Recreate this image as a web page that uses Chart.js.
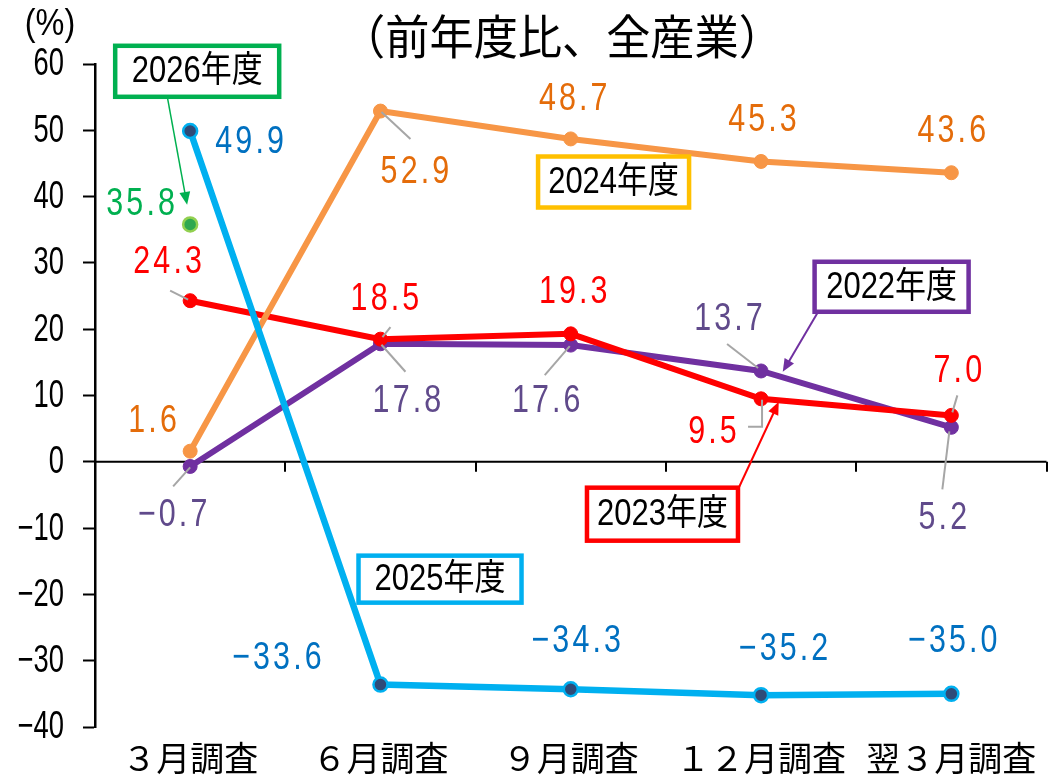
<!DOCTYPE html>
<html>
<head>
<meta charset="utf-8">
<script src="https://cdn.jsdelivr.net/npm/chart.js@4"></script>
<style>
    html, body { margin: 0; padding: 0; background: #fff; }
    #wrap { width: 1056px; height: 781px; }
</style>
</head>
<body>
<div id="wrap"><canvas id="c" width="1056" height="781"></canvas></div>
<script>
// データ
const categories = ["３月調査", "６月調査", "９月調査", "１２月調査", "翌３月調査"];
const fy2022 = [-0.7, 17.8, 17.6, 13.7, 5.2];
const fy2023 = [24.3, 18.5, 19.3, 9.5, 7.0];
const fy2024 = [1.6, 52.9, 48.7, 45.3, 43.6];
const fy2025 = [49.9, -33.6, -34.3, -35.2, -35.0];
const fy2026 = [35.8, null, null, null, null];
const yMin = -40;
const yMax = 60;
const yStep = 10;

const numFont = "'Liberation Sans', Arimo, sans-serif";
const boxFont = "'Liberation Sans', 'Noto Sans CJK JP', sans-serif";
const jpFont = "'Noto Sans CJK JP', sans-serif";

const colors = {
    fy2022: "#7030A0",
    fy2023: "#FF0000",
    fy2024: "#F79646",
    fy2025: "#00B0F0",
    fy2026: "#00B050",
};

// ラベル位置（点からのずれ, px）
const labelStyle = [
    { color: "#604A8B", offsets: [[-18, 48], [26, 56], [-25, 55], [-33, -53], [-9, 90]] },
    { color: "#FF0000", offsets: [[-23, -39], [4, -41], [2, -43], [-49, 32], [6, -45]] },
    { color: "#E46C0A", offsets: [[-38, -31], [34, 60], [2, -41], [1, -42], [0, -42]] },
    { color: "#0070C0", offsets: [[59, 10], [-104, -27], [5, -49], [22, -47], [1, -54]] },
    { color: "#00B050", offsets: [[-50, -21]] },
];

// 引き出し線（点からのずれ）
const leaders = [
    [1, 0, [[-20, -10], [-2, -1]]],
    [2, 1, [[1, 1], [30, 28]]],
    [1, 1, [[2, -2], [10, -12]]],
    [0, 1, [[1, 1], [25, 28]]],
    [0, 2, [[-1, 1], [-26, 30]]],
    [0, 3, [[-34, -27], [-3, -3]]],
    [1, 3, [[-13, 28], [1, 28], [1, 1]]],
    [1, 4, [[6, -20], [1, -3]]],
    [0, 4, [[-9, 62], [-2, 4]]],
    [0, 0, [[-17, 20], [0, 1]]],
];

// 凡例ボックス（カテゴリ位置, 値, 幅, 高さ）
const legendBoxes = [
    { text: "2026年度", color: "#00B050", x: 0.037, y: 58.9, w: 164, h: 51 },
    { text: "2024年度", color: "#FFC000", x: 2.225, y: 42.2, w: 151, h: 51 },
    { text: "2022年度", color: "#7030A0", x: 3.686, y: 26.4, w: 154, h: 50 },
    { text: "2023年度", color: "#FF0000", x: 2.482, y: -7.9, w: 151, h: 53 },
    { text: "2025年度", color: "#00B0F0", x: 1.313, y: -17.7, w: 163, h: 47 },
];

const legendArrows = [
    { color: "#00B050", width: 1.5, from: [-0.12, 55.05], to: [-0.016, 38.76] },
    { color: "#7030A0", width: 2, from: [3.297, 22.47], to: [3.114, 13.57] },
    { color: "#FF0000", width: 2, from: [2.883, -3.92], to: [3.093, 9.05] },
];

function fmt(v) {
    return v.toFixed(1).replace("-", "−");
}

// 横に詰めた文字
function narrowText(ctx, text, x, y, sx, align) {
    ctx.save();
    ctx.translate(x, y);
    ctx.scale(sx, 1);
    ctx.textAlign = align || "center";
    ctx.fillText(text, 0, 0);
    ctx.restore();
}

function drawArrow(ctx, x1, y1, x2, y2, color, width) {
    const ang = Math.atan2(y2 - y1, x2 - x1);
    const head = 14;
    ctx.save();
    ctx.strokeStyle = color;
    ctx.fillStyle = color;
    ctx.lineWidth = width;
    ctx.beginPath();
    ctx.moveTo(x1, y1);
    ctx.lineTo(x2 - Math.cos(ang) * head * 0.8, y2 - Math.sin(ang) * head * 0.8);
    ctx.stroke();
    ctx.beginPath();
    ctx.moveTo(x2, y2);
    ctx.lineTo(x2 - head * Math.cos(ang - 0.4), y2 - head * Math.sin(ang - 0.4));
    ctx.lineTo(x2 - head * Math.cos(ang + 0.4), y2 - head * Math.sin(ang + 0.4));
    ctx.closePath();
    ctx.fill();
    ctx.restore();
}

const zeroLinePlugin = {
    id: "zeroLine",
    beforeDatasetsDraw(chart) {
        const { ctx, chartArea, scales } = chart;
        const y0 = scales.y.getPixelForValue(0);
        ctx.save();
        ctx.strokeStyle = "#000";
        ctx.lineWidth = 2;
        ctx.beginPath();
        ctx.moveTo(chartArea.left, y0);
        ctx.lineTo(chartArea.right, y0);
        for (let i = 1; i <= categories.length; i += 1) {
            const x = Math.round(scales.x.getPixelForValue(i - 0.5));
            ctx.moveTo(x, y0);
            ctx.lineTo(x, y0 + 10);
        }
        ctx.stroke();

        // 縦軸の目盛ラベル
        ctx.fillStyle = "#000";
        ctx.font = "38px " + numFont;
        ctx.textBaseline = "middle";
        scales.y.ticks.forEach((t) => {
            const y = scales.y.getPixelForValue(t.value);
            narrowText(ctx, String(t.value).replace("-", "−"), 64, y + 1, 0.72, "right");
        });
        ctx.restore();
    },
};

const annotationsPlugin = {
    id: "annotations",
    afterDatasetsDraw(chart) {
        const { ctx, scales } = chart;
        const xs = scales.x;
        const ys = scales.y;

        // 引き出し線
        ctx.save();
        ctx.strokeStyle = "#A6A6A6";
        ctx.lineWidth = 2;
        leaders.forEach(([ds, idx, pts]) => {
            const p = chart.getDatasetMeta(ds).data[idx];
            ctx.beginPath();
            pts.forEach(([dx, dy], k) => {
                if (k === 0) ctx.moveTo(p.x + dx, p.y + dy);
                else ctx.lineTo(p.x + dx, p.y + dy);
            });
            ctx.stroke();
        });
        ctx.restore();

        // 数値ラベル
        ctx.save();
        ctx.font = "39px " + numFont;
        ctx.textBaseline = "middle";
        ctx.letterSpacing = "4px";
        chart.data.datasets.forEach((ds, di) => {
            const meta = chart.getDatasetMeta(di);
            ds.data.forEach((v, i) => {
                if (v === null) return;
                const p = meta.data[i];
                const [dx, dy] = labelStyle[di].offsets[i];
                ctx.fillStyle = labelStyle[di].color;
                narrowText(ctx, fmt(v), p.x + dx + 2, p.y + dy + 1, 0.78, "center");
            });
        });
        ctx.restore();

        // 矢印
        legendArrows.forEach((a) => {
            drawArrow(ctx,
                xs.getPixelForValue(a.from[0]), ys.getPixelForValue(a.from[1]),
                xs.getPixelForValue(a.to[0]), ys.getPixelForValue(a.to[1]),
                a.color, a.width);
        });

        // 凡例ボックス
        ctx.save();
        legendBoxes.forEach((b) => {
            const cx = xs.getPixelForValue(b.x);
            const cy = ys.getPixelForValue(b.y);
            ctx.fillStyle = "#fff";
            ctx.fillRect(cx - b.w / 2, cy - b.h / 2, b.w, b.h);
            ctx.strokeStyle = b.color;
            ctx.lineWidth = 4.5;
            ctx.strokeRect(cx - b.w / 2, cy - b.h / 2, b.w, b.h);
            ctx.fillStyle = "#000";
            ctx.font = "36px " + boxFont;
            ctx.textBaseline = "middle";
            narrowText(ctx, b.text, cx, cy + 1, 0.86, "center");
        });
        ctx.restore();
    },
    afterDraw(chart) {
        const { ctx } = chart;
        ctx.save();
        ctx.fillStyle = "#000";
        ctx.textBaseline = "middle";
        ctx.font = "47px " + jpFont;
        narrowText(ctx, "（前年度比、全産業）", 562, 36, 0.94, "center");
        ctx.font = "36px " + numFont;
        narrowText(ctx, "(%)", 50, 25, 0.9, "center");
        ctx.restore();
    },
};

function lineDataset(label, data, color, order) {
    return {
        label,
        data,
        borderColor: color,
        backgroundColor: color,
        pointBackgroundColor: color,
        pointBorderColor: color,
        borderWidth: 6,
        pointRadius: 7,
        pointBorderWidth: 1,
        tension: 0,
        spanGaps: false,
        order,
    };
}

const datasets = [
    lineDataset("2022年度", fy2022, colors.fy2022, 4),
    lineDataset("2023年度", fy2023, colors.fy2023, 3),
    lineDataset("2024年度", fy2024, colors.fy2024, 2),
    {
        ...lineDataset("2025年度", fy2025, colors.fy2025, 1),
        borderWidth: 6.5,
        pointBackgroundColor: "#2F4B78",
        pointBorderColor: colors.fy2025,
        pointBorderWidth: 2.5,
    },
    {
        ...lineDataset("2026年度", fy2026, colors.fy2026, 0),
        pointBackgroundColor: "#2FA84F",
        pointBorderColor: "#92D050",
        pointBorderWidth: 2.5,
    },
];

new Chart(document.getElementById("c"), {
    type: "line",
    data: { labels: categories, datasets },
    options: {
        responsive: false,
        animation: false,
        layout: { padding: { top: 64, right: 9, left: 0, bottom: 0 } },
        plugins: { legend: { display: false }, tooltip: { enabled: false }, title: { display: false } },
        scales: {
            x: {
                type: "category",
                offset: true,
                grid: { display: false },
                border: { display: false },
                ticks: {
                    color: "#000",
                    font: { family: jpFont, size: 34 },
                    padding: 3,
                    maxRotation: 0,
                    autoSkip: false,
                },
                afterFit: (s) => { s.height = 54; },
            },
            y: {
                min: yMin,
                max: yMax,
                border: { display: true, color: "#000", width: 2.5 },
                grid: { drawOnChartArea: false, drawTicks: true, tickLength: 12, tickWidth: 2, tickColor: "#000" },
                ticks: {
                    stepSize: yStep,
                    color: "rgba(0,0,0,0)",
                    padding: 18,
                    font: { family: numFont, size: 32 },
                },
                afterFit: (s) => { s.width = 95; },
            },
        },
    },
    plugins: [zeroLinePlugin, annotationsPlugin],
});
</script>
</body>
</html>
